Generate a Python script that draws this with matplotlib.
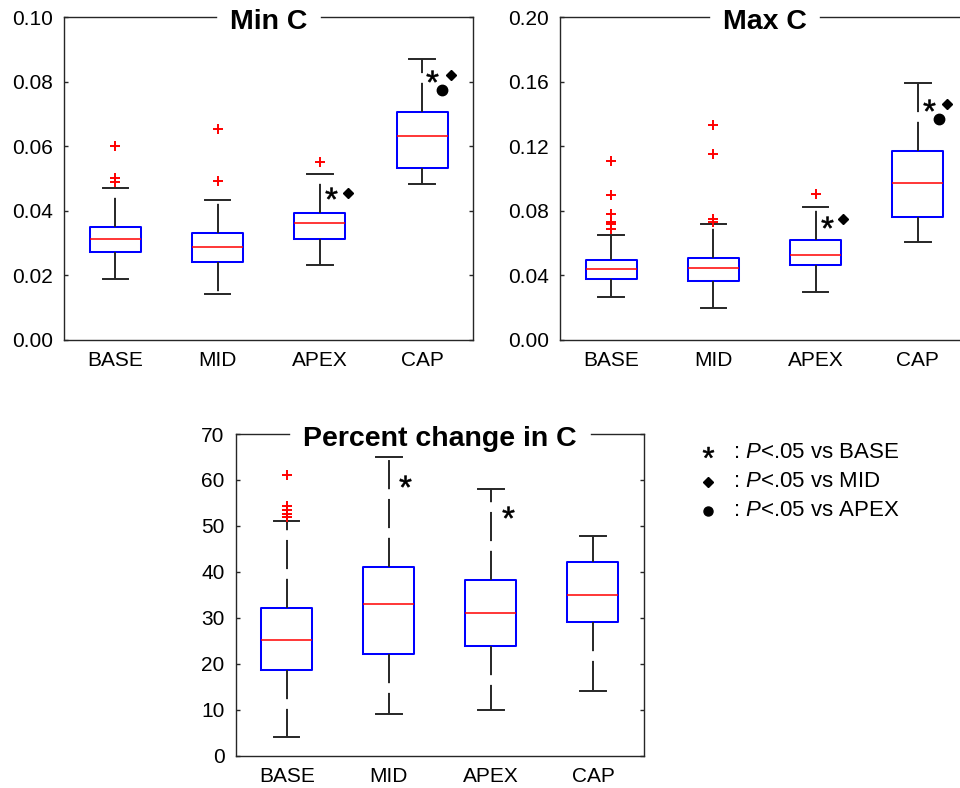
import numpy as np
import matplotlib
matplotlib.use("Agg")
import matplotlib.pyplot as plt
from matplotlib.ticker import FormatStrFormatter

plt.rcParams.update({
    "font.family": ["Liberation Sans", "DejaVu Sans"],
    "mathtext.fontset": "custom",
    "mathtext.rm": "Liberation Sans",
    "mathtext.it": "Liberation Sans:italic",
    "lines.scale_dashes": False,
})

W, H = 960, 788
C_AX = "#262626"

categories = ["BASE", "MID", "APEX", "CAP"]

# Min C
min_lo = [0.0190, 0.0143, 0.0232, 0.0484]
min_q1 = [0.0273, 0.0243, 0.0314, 0.0533]
min_med = [0.0314, 0.0287, 0.0364, 0.0632]
min_q3 = [0.0351, 0.0333, 0.0393, 0.0707]
min_hi = [0.0472, 0.0434, 0.0513, 0.0872]
min_out = [[0.0602, 0.0501, 0.0491], [0.0653, 0.0492], [0.0552], []]
min_sig = [("*", 3.11, 0.0455), ("D", 3.27, 0.0455),
           ("*", 4.10, 0.0818), ("D", 4.28, 0.0821), ("o", 4.19, 0.0775)]

# Max C
max_lo = [0.0269, 0.0196, 0.0295, 0.0605]
max_q1 = [0.0376, 0.0366, 0.0465, 0.0762]
max_med = [0.0438, 0.0448, 0.0525, 0.0975]
max_q3 = [0.0494, 0.0506, 0.0618, 0.1174]
max_hi = [0.0650, 0.0719, 0.0826, 0.1593]
max_out = [[0.1112, 0.0900, 0.0781, 0.0729, 0.0717, 0.0686],
           [0.1335, 0.1155, 0.0750, 0.0733], [0.0903], []]
max_sig = [("*", 3.11, 0.0733), ("D", 3.27, 0.0750),
           ("*", 4.11, 0.1455), ("D", 4.28, 0.1465), ("o", 4.21, 0.1372)]

# Percent change in C
pct_lo = [4.0, 9.0, 9.9, 14.0]
pct_q1 = [18.7, 22.1, 23.9, 29.1]
pct_med = [25.1, 33.1, 31.1, 35.0]
pct_q3 = [32.1, 41.1, 38.2, 42.1]
pct_hi = [51.1, 65.1, 58.0, 47.9]
pct_out = [[61.1, 54.3, 53.5, 52.7, 52.0], [], [], []]
pct_sig = [("*", 2.16, 59.8), ("*", 3.17, 53.1)]

legend_rows = [("*", "BASE"), ("D", "MID"), ("o", "APEX")]


def px_axes(fig, left, top, right, bottom):
    return fig.add_axes([left / W, (H - bottom) / H, (right - left) / W,
                         (bottom - top) / H])


def sig_marker(ax, sym, x, y, big=True):
    if sym == "*":
        ax.plot(x, y, marker="$*$", ms=8.5 if big else 8, color="k",
                mew=0.4, ls="none", clip_on=False, zorder=5)
    elif sym == "D":
        ax.plot(x, y, marker="D", ms=5.5 if big else 5, color="k",
                ls="none", clip_on=False, zorder=5)
    else:
        ax.plot(x, y, marker="o", ms=7.5 if big else 6.5, color="k",
                ls="none", clip_on=False, zorder=5)


def panel(ax, lo, q1, med, q3, hi, out, sig, ymax, step, fmt, title, tsize):
    stats = [dict(whislo=a, q1=b, med=c, q3=d, whishi=e, fliers=f)
             for a, b, c, d, e, f in zip(lo, q1, med, q3, hi, out)]
    ax.bxp(stats, positions=[1, 2, 3, 4], widths=0.5,
           boxprops=dict(color="#0000FF", lw=1.45),
           medianprops=dict(color="#FF0000", lw=1.1),
           whiskerprops=dict(color=C_AX, lw=1.4, ls=(0, (21, 7))),
           capprops=dict(color=C_AX, lw=1.4),
           flierprops=dict(marker="+", markeredgecolor="#FF0000",
                           ms=7, mew=1.4, ls="none"))
    for s, x, y in sig:
        sig_marker(ax, s, x, y)
    ax.set_xlim(0.5, 4.5)
    ax.set_ylim(0, ymax)
    ax.set_yticks(np.arange(0, ymax + step / 2, step))
    ax.yaxis.set_major_formatter(FormatStrFormatter(fmt))
    ax.set_xticks([1, 2, 3, 4], categories)
    ax.tick_params(axis="y", direction="in", length=3, width=1,
                   color=C_AX, left=True, right=True, labelsize=15, pad=8)
    ax.tick_params(axis="x", length=0, labelsize=15, pad=8)
    for sp in ax.spines.values():
        sp.set_color(C_AX)
        sp.set_linewidth(1.0)
    ax.spines["top"].set_visible(False)
    ax.set_facecolor("none")
    t = ax.annotate(title, xy=(0.5, 1.0), xycoords="axes fraction",
                    xytext=(0, -11.5 * 0.72), textcoords="offset points",
                    ha="center", va="baseline", fontsize=tsize,
                    fontweight="bold")
    return t


fig = plt.figure(figsize=(W / 100, H / 100), dpi=100)

ax1 = px_axes(fig, 64.3, 17.3, 473.3, 340)
ax2 = px_axes(fig, 560, 17.3, 969, 340)
ax3 = px_axes(fig, 235.7, 434, 644, 755.7)

titles = []
titles.append((ax1, panel(ax1, min_lo, min_q1, min_med, min_q3, min_hi,
                          min_out, min_sig, 0.10, 0.02, "%.2f", "Min C", 20.5)))
titles.append((ax2, panel(ax2, max_lo, max_q1, max_med, max_q3, max_hi,
                          max_out, max_sig, 0.20, 0.04, "%.2f", "Max C", 20.5)))
titles.append((ax3, panel(ax3, pct_lo, pct_q1, pct_med, pct_q3, pct_hi,
                          pct_out, pct_sig, 70, 10, "%d",
                          "Percent change in C", 20.5)))

# top frame line broken around the title
fig.canvas.draw()
gap = 14
for ax, t in titles:
    bb = t.get_window_extent()
    abb = ax.get_window_extent()
    x0 = (bb.x0 - gap - abb.x0) / abb.width
    x1 = (bb.x1 + gap - abb.x0) / abb.width
    for a, b in ((0, x0), (x1, 1)):
        ax.plot([a, b], [1, 1], color=C_AX, lw=1.0, transform=ax.transAxes,
                clip_on=False, solid_capstyle="projecting")

# significance key
kx = fig.add_axes([0, 0, 1, 1])
kx.set_xlim(0, W)
kx.set_ylim(H, 0)
kx.axis("off")
for i, (sym, name) in enumerate(legend_rows):
    y = 452 + i * 29.5
    sig_marker(kx, sym, 708, y, big=False)
    kx.text(733, y, ": $\\mathit{P}$<.05 vs " + name, fontsize=16,
            va="center", ha="left")

fig.savefig("out.png", dpi=100)
